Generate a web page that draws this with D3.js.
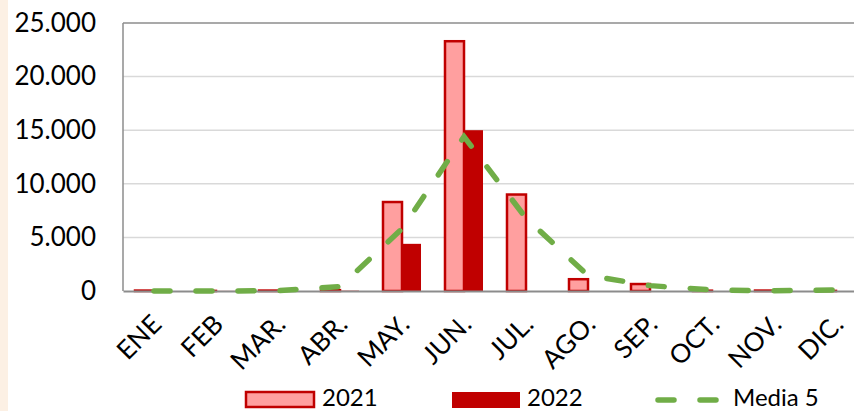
<!DOCTYPE html>
<html>
<head>
<meta charset="utf-8">
<script src="https://cdn.jsdelivr.net/npm/d3@7/dist/d3.min.js"></script>
<style>
  html, body { margin: 0; padding: 0; background: #ffffff; }
  svg { display: block; }
  text { font-family: Lato, "Open Sans", sans-serif; fill: #000; }
</style>
</head>
<body>
<svg id="chart" width="854" height="411"></svg>
<script>
// Monthly counts: 2021, 2022 and the five-year mean
const months = ["ENE", "FEB", "MAR.", "ABR.", "MAY.", "JUN.", "JUL.", "AGO.", "SEP.", "OCT.", "NOV.", "DIC."];
const values2021 = [40, 10, 40, 80, 8300, 23300, 9000, 1100, 650, 30, 40, 10];
const values2022 = [0, 10, 0, 30, 4400, 15000, 0, 0, 0, 0, 0, 0];
const media5 = [0, 0, 30, 400, 5800, 14400, 6800, 1450, 500, 100, 20, 100];
const yTicks = [0, 5000, 10000, 15000, 20000, 25000];
const seriesNames = ["2021", "2022"];

const svg = d3.select("#chart");
const W = 854, H = 411;
const plot = { left: 123, right: 867, top: 23, bottom: 291 };

svg.append("rect").attr("width", W).attr("height", H).attr("fill", "#ffffff");
svg.append("rect").attr("x", 0).attr("y", 0).attr("width", 8).attr("height", H).attr("fill", "#fcf0e4");

const x = d3.scaleBand().domain(months).range([plot.left, plot.right])
  .paddingInner(0.387).paddingOuter(0.1935);
const xs = d3.scaleBand().domain(seriesNames).range([0, x.bandwidth()]);
const y = d3.scaleLinear().domain([0, 25000]).range([plot.bottom, plot.top]);

const fmt = v => d3.format(",")(v).replace(/,/g, ".");

// horizontal gridlines
svg.append("g").selectAll("line").data(yTicks.filter(t => t > 0 && t < 25000)).join("line")
  .attr("x1", plot.left).attr("x2", plot.right)
  .attr("y1", d => y(d)).attr("y2", d => y(d))
  .attr("stroke", "#d9d9d9").attr("stroke-width", 1.5);

// plot frame (top and left)
svg.append("line").attr("x1", plot.left).attr("x2", plot.right)
  .attr("y1", plot.top).attr("y2", plot.top)
  .attr("stroke", "#8c8c8c").attr("stroke-width", 1.5);
svg.append("line").attr("x1", plot.left).attr("x2", plot.left)
  .attr("y1", plot.top).attr("y2", plot.bottom)
  .attr("stroke", "#8c8c8c").attr("stroke-width", 1.5);

// y axis labels
const yAxis = d3.axisLeft(y).tickValues(yTicks).tickFormat(fmt).tickSize(0).tickPadding(27);
const gy = svg.append("g").attr("transform", `translate(${plot.left},0)`).call(yAxis);
gy.select(".domain").remove();
gy.selectAll("text").style("font-size", "26px").style("font-family", "Lato, 'Open Sans', sans-serif").attr("fill", "#000");

// bars
const g = svg.append("g");
g.selectAll("rect.b2021").data(months).join("rect").attr("class", "b2021")
  .attr("x", d => x(d) + xs("2021"))
  .attr("width", xs.bandwidth())
  .attr("y", (d, i) => y(values2021[i]))
  .attr("height", (d, i) => y(0) - y(values2021[i]))
  .attr("fill", "#ff9f9f").attr("stroke", "#c00000").attr("stroke-width", 2.5);
g.selectAll("rect.b2022").data(months).join("rect").attr("class", "b2022")
  .attr("x", d => x(d) + xs("2022"))
  .attr("width", xs.bandwidth())
  .attr("y", (d, i) => y(values2022[i]))
  .attr("height", (d, i) => y(0) - y(values2022[i]))
  .attr("fill", "#c00000");

// x axis line and rotated month labels
const xAxis = d3.axisBottom(x).tickSize(0).tickPadding(0);
const gx = svg.append("g").attr("transform", `translate(0,${plot.bottom})`).call(xAxis);
gx.select(".domain").attr("stroke", "#8c8c8c").attr("stroke-width", 2);
gx.selectAll(".tick text")
  .style("font-size", "26px").style("font-family", "Lato, 'Open Sans', sans-serif")
  .attr("fill", "#000")
  .attr("text-anchor", "end")
  .attr("y", 0).attr("dy", 0)
  .attr("transform", "translate(9,35) rotate(-45)");

// five-year mean line
const line = d3.line()
  .x((d, i) => x(months[i]) + x.bandwidth() / 2)
  .y(d => y(d));
svg.append("path").datum(media5)
  .attr("d", line)
  .attr("fill", "none").attr("stroke", "#70ad47").attr("stroke-width", 5.5)
  .attr("stroke-linecap", "round").attr("stroke-dasharray", "16,26");

// legend
const lg = svg.append("g");
lg.append("rect").attr("x", 246).attr("y", 392).attr("width", 68).attr("height", 15)
  .attr("fill", "#ff9f9f").attr("stroke", "#c00000").attr("stroke-width", 2.5);
lg.append("text").attr("x", 322).attr("y", 406).style("font-size", "24px").text(seriesNames[0]);
lg.append("rect").attr("x", 452).attr("y", 392).attr("width", 68).attr("height", 16)
  .attr("fill", "#c00000");
lg.append("text").attr("x", 527).attr("y", 406).style("font-size", "24px").text(seriesNames[1]);
lg.append("line").attr("x1", 658).attr("x2", 718).attr("y1", 400).attr("y2", 400)
  .attr("stroke", "#70ad47").attr("stroke-width", 5.5)
  .attr("stroke-linecap", "round").attr("stroke-dasharray", "16,26");
lg.append("text").attr("x", 733).attr("y", 406).style("font-size", "24px").text("Media 5");
</script>
</body>
</html>
